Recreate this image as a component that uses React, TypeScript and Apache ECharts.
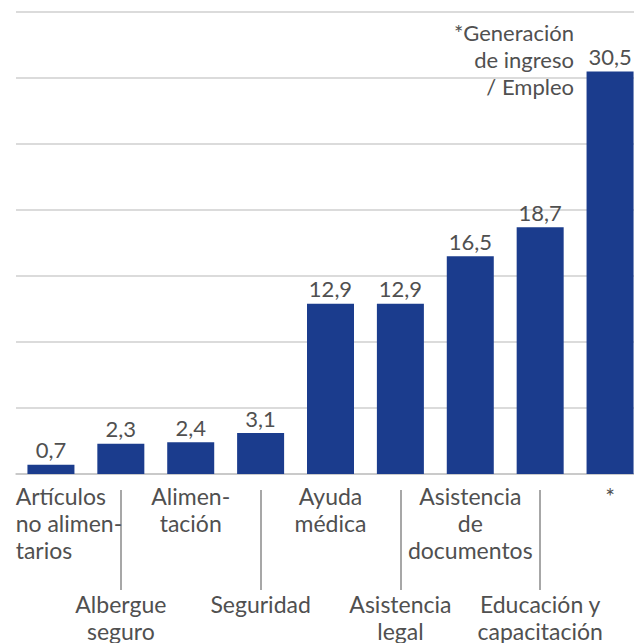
import React, { useEffect, useRef } from 'react';
import * as echarts from 'echarts';

const categories = [
  'Artículos no alimentarios',
  'Albergue seguro',
  'Alimentación',
  'Seguridad',
  'Ayuda médica',
  'Asistencia legal',
  'Asistencia de documentos',
  'Educación y capacitación',
  '*',
];
const labelLines = [
  ['Artículos', 'no alimen-', 'tarios'],
  ['Albergue', 'seguro'],
  ['Alimen-', 'tación'],
  ['Seguridad'],
  ['Ayuda', 'médica'],
  ['Asistencia', 'legal'],
  ['Asistencia', 'de', 'documentos'],
  ['Educación y', 'capacitación'],
  ['*'],
];
const values = [0.7, 2.3, 2.4, 3.1, 12.9, 12.9, 16.5, 18.7, 30.5];
const footnote = ['*Generación', 'de ingreso', '/ Empleo'];

const FONT = 'Lato';
const TEXT = '#505050';

export default function App() {
  const ref = useRef<HTMLDivElement>(null);
  useEffect(() => {
    if (!ref.current) return;
    const chart = echarts.init(ref.current, undefined, { renderer: 'svg' });
    chart.setOption({
      animation: false,
      backgroundColor: '#ffffff',
      grid: {
        left: 16,
        right: -11,
        top: 12,
        bottom: 169,
        containLabel: false,
        outerBoundsMode: 'none',
      },
      xAxis: [
        {
          type: 'category',
          data: categories,
          axisLine: { show: true, lineStyle: { color: '#c4c4c4', width: 1.5 } },
          axisTick: { show: false },
          axisLabel: {
            interval: 0,
            margin: 8,
            hideOverlap: false,
            color: TEXT,
            fontFamily: FONT,
            fontSize: 23,
            lineHeight: 27,
            formatter: (_v: string, i: number) => {
              const lines = labelLines[i];
              if (i === 0) return lines.map((l) => `{l|${l}}`).join('\n');
              if (i % 2 === 1) return '\n\n\n\n' + lines.join('\n');
              return lines.join('\n');
            },
            rich: {
              l: {
                align: 'left',
                padding: [0, 0, 0, 36],
                color: TEXT,
                fontFamily: FONT,
                fontSize: 23,
                lineHeight: 27,
              },
            },
          },
        },
        {
          type: 'category',
          data: categories,
          position: 'bottom',
          offset: 16,
          axisLine: { show: false },
          axisLabel: { show: false },
          axisTick: {
            show: true,
            alignWithLabel: true,
            length: 100,
            interval: (i: number) => i % 2 === 1,
            lineStyle: { color: '#8a8a8a', width: 1.5 },
          },
        },
      ],
      yAxis: {
        type: 'value',
        min: 0,
        max: 35,
        interval: 5,
        axisLine: { show: false },
        axisTick: { show: false },
        axisLabel: { show: false },
        splitLine: { lineStyle: { color: '#cfcfcf', width: 1.5 } },
      },
      series: [
        {
          type: 'bar',
          data: values,
          barWidth: 47,
          itemStyle: { color: '#1b3c8d' },
          label: {
            show: true,
            position: 'top',
            distance: 4,
            color: TEXT,
            fontFamily: FONT,
            fontSize: 22,
            formatter: (p: any) => String(p.value).replace('.', ','),
          },
        },
      ],
      graphic: [
        {
          type: 'text',
          x: 574,
          y: 19,
          style: {
            text: footnote.join('\n'),
            align: 'right',
            verticalAlign: 'top',
            fill: TEXT,
            font: `22px ${FONT}`,
            lineHeight: 27,
          },
        },
      ],
    });
    return () => chart.dispose();
  }, []);
  return (
    <div
      ref={ref}
      style={{ position: 'fixed', left: 0, top: 0, width: 634, height: 643 }}
    />
  );
}
